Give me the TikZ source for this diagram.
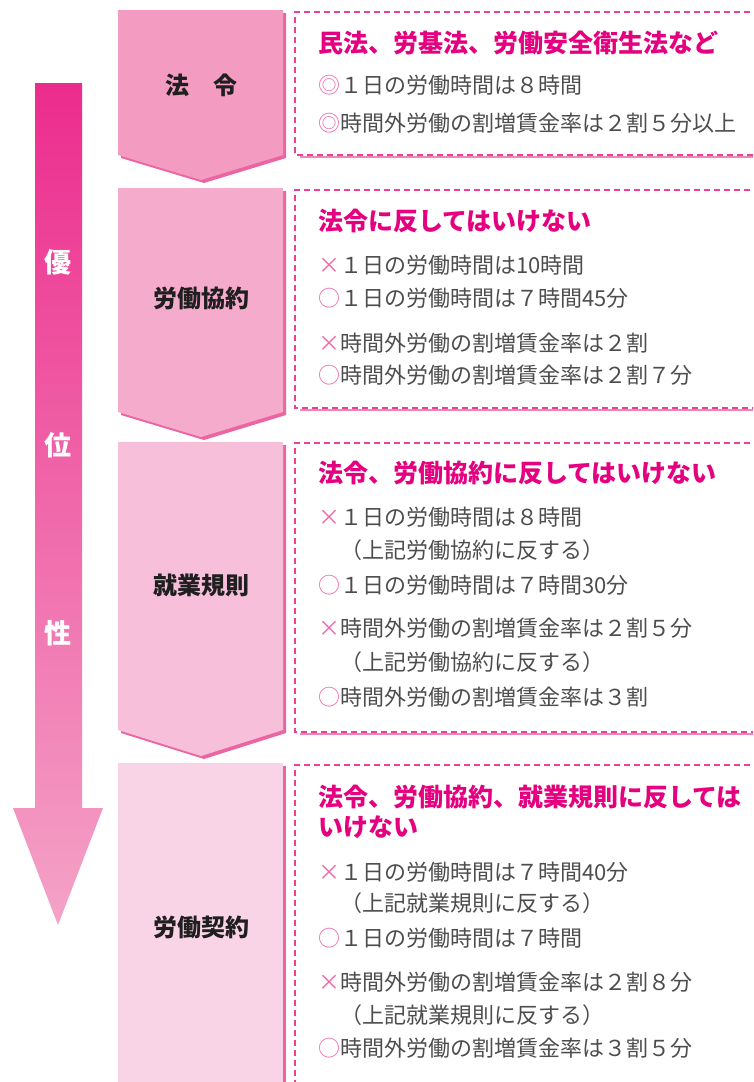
\documentclass[tikz,border=0pt]{standalone}
\usepackage{fontspec}
\newfontfamily\jp{Noto Sans CJK JP}
\definecolor{mag}{HTML}{E4007F}
\definecolor{dashc}{HTML}{EE3F98}
\definecolor{under}{HTML}{F184B8}
\definecolor{bodyc}{HTML}{4D4D4D}
\definecolor{symc}{HTML}{F06AAB}
\definecolor{shad}{HTML}{EC64A2}
\definecolor{fA}{HTML}{F39BC1}
\definecolor{fB}{HTML}{F5ABCB}
\definecolor{fC}{HTML}{F7BFD9}
\definecolor{fD}{HTML}{F9D4E6}
\definecolor{arT}{HTML}{EC2C8D}
\definecolor{arB}{HTML}{F4A3C7}
\begin{document}
\begin{tikzpicture}[x=1pt,y=-1pt,
  hd/.style={anchor=west, inner sep=0pt, text=mag, text height=22pt, text depth=3pt, font=\jp\bfseries\fontsize{25}{30}\selectfont},
  bl/.style={anchor=west, inner sep=0pt, text=bodyc, text height=19.4pt, text depth=2.6pt, font=\jp\fontsize{22}{26}\selectfont},
  sy/.style={inner sep=0pt, text=symc, text height=19.4pt, text depth=2.6pt, font=\jp\fontsize{22}{26}\selectfont},
  lab/.style={inner sep=0pt, text=black!88, font=\jp\bfseries\fontsize{24}{28}\selectfont},
  pri/.style={inner sep=0pt, text=white, font=\jp\bfseries\fontsize{27}{30}\selectfont},
  dbox/.style={draw=dashc, line width=2pt, dash pattern=on 6pt off 4pt},
  ubar/.style={draw=under, line width=2.5pt},
]
\useasboundingbox (0,0) rectangle (753,1082);
\clip (0,0) rectangle (753,1082);

% priority arrow
\shade[top color=arT, bottom color=arB]
  (35,83) -- (82,83) -- (82,808) -- (103,808) -- (58,925) -- (13,808) -- (35,808) -- cycle;
\node[pri] (p1) at (58,262) {優};
\node[pri] (p2) at (58,445) {位};
\node[pri] (p3) at (58,633) {性};

% left pentagon boxes (shadow + fill)
\fill[shad] (121,13) -- (286,13) -- (286,158) -- (204,183) -- (121,158) -- cycle;
\fill[fA] (118,10) -- (283,10) -- (283,155) -- (201,180) -- (118,155) -- cycle;
\fill[shad] (121,191) -- (286,191) -- (286,415) -- (204,440) -- (121,415) -- cycle;
\fill[fB] (118,188) -- (283,188) -- (283,412) -- (201,437) -- (118,412) -- cycle;
\fill[shad] (121,445) -- (286,445) -- (286,733) -- (204,759) -- (121,733) -- cycle;
\fill[fC] (118,442) -- (283,442) -- (283,730) -- (201,756) -- (118,730) -- cycle;
\fill[shad] (121,766) rectangle (286,1090);
\fill[fD] (118,763) rectangle (283,1090);

\node[lab] (l1) at (201,85) {法　令};
\node[lab] (l2) at (201,298) {労働協約};
\node[lab] (l3) at (201,585) {就業規則};
\node[lab] (l4) at (201,927) {労働契約};

% dashed boxes
\draw[ubar] (300,157) -- (760,157);
\draw[dbox] (760,12) -- (295,12) -- (295,155) -- (760,155);
\draw[ubar] (300,410) -- (760,410);
\draw[dbox] (760,190) -- (295,190) -- (295,408) -- (760,408);
\draw[ubar] (300,734) -- (760,734);
\draw[dbox] (760,443) -- (295,443) -- (295,732) -- (760,732);
\draw[dbox] (760,765) -- (295,765) -- (295,1090);

% box 1
\node[hd] (h1) at (318,43) {民法、労基法、労働安全衛生法など};
\node[sy] (s1a) at (329,85) {◎};
\node[bl] (t1a) at (340,85) {１日の労働時間は８時間};
\node[sy] (s1b) at (329,123) {◎};
\node[bl] (t1b) at (340,123) {時間外労働の割増賃金率は２割５分以上};

% box 2
\node[hd] (h2) at (318,221) {法令に反してはいけない};
\node[sy] (s2a) at (329,265) {×};
\node[bl] (t2a) at (340,265) {１日の労働時間は10時間};
\node[sy] (s2b) at (329,298) {○};
\node[bl] (t2b) at (340,298) {１日の労働時間は７時間45分};
\node[sy] (s2c) at (329,343) {×};
\node[bl] (t2c) at (340,343) {時間外労働の割増賃金率は２割};
\node[sy] (s2d) at (329,375) {○};
\node[bl] (t2d) at (340,375) {時間外労働の割増賃金率は２割７分};

% box 3
\node[hd] (h3) at (318,473) {法令、労働協約に反してはいけない};
\node[sy] (s3a) at (329,517) {×};
\node[bl] (t3a) at (340,517) {１日の労働時間は８時間};
\node[bl] (t3b) at (340,550) {（上記労働協約に反する）};
\node[sy] (s3c) at (329,585) {○};
\node[bl] (t3c) at (340,585) {１日の労働時間は７時間30分};
\node[sy] (s3d) at (329,628) {×};
\node[bl] (t3d) at (340,628) {時間外労働の割増賃金率は２割５分};
\node[bl] (t3e) at (340,662) {（上記労働協約に反する）};
\node[sy] (s3f) at (329,697) {○};
\node[bl] (t3f) at (340,697) {時間外労働の割増賃金率は３割};

% box 4
\node[hd] (h4a) at (318,797) {法令、労働協約、就業規則に反しては};
\node[hd] (h4b) at (318,827) {いけない};
\node[sy] (s4a) at (329,872) {×};
\node[bl] (t4a) at (340,872) {１日の労働時間は７時間40分};
\node[bl] (t4b) at (340,903) {（上記就業規則に反する）};
\node[sy] (s4c) at (329,938) {○};
\node[bl] (t4c) at (340,938) {１日の労働時間は７時間};
\node[sy] (s4d) at (329,982) {×};
\node[bl] (t4d) at (340,982) {時間外労働の割増賃金率は２割８分};
\node[bl] (t4e) at (340,1015) {（上記就業規則に反する）};
\node[sy] (s4f) at (329,1048) {○};
\node[bl] (t4f) at (340,1048) {時間外労働の割増賃金率は３割５分};
\end{tikzpicture}
\end{document}
